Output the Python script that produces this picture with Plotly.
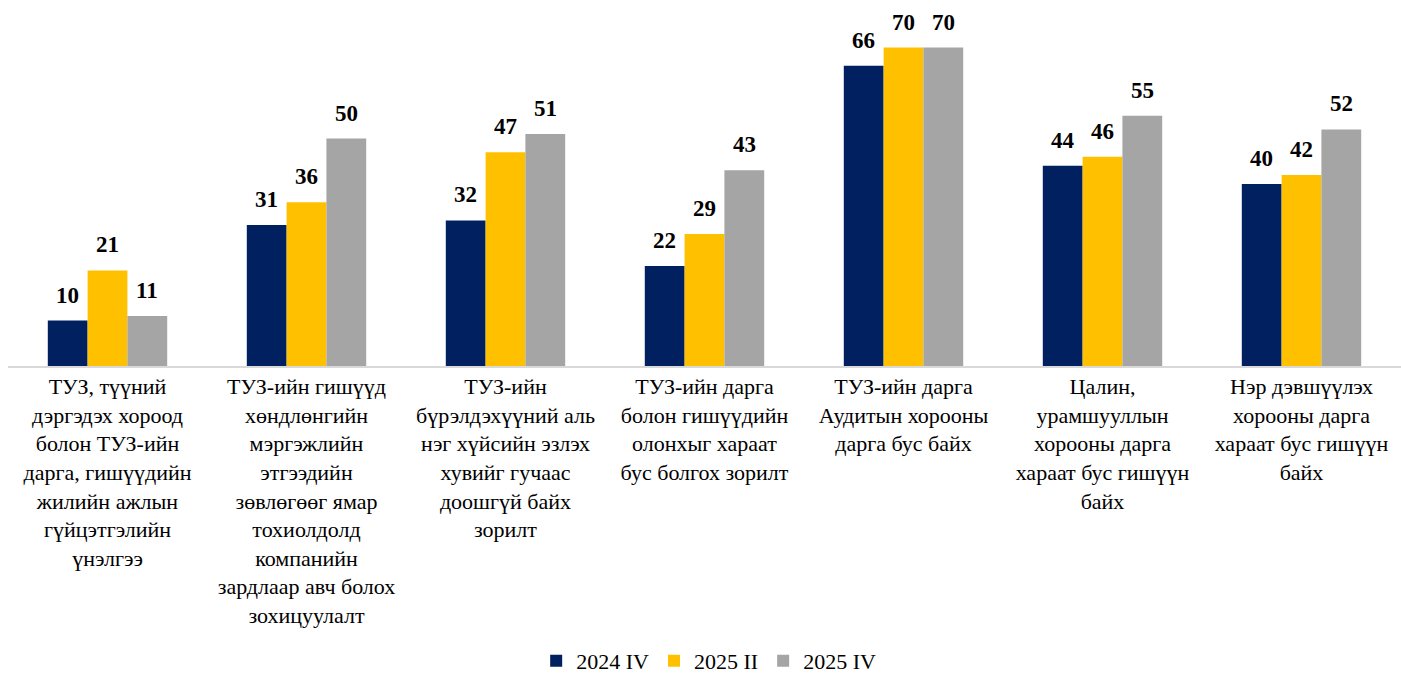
import plotly.graph_objects as go

categories = [
    "ТУЗ, түүний<br>дэргэдэх хороод<br>болон ТУЗ-ийн<br>дарга, гишүүдийн<br>жилийн ажлын<br>гүйцэтгэлийн<br>үнэлгээ",
    "ТУЗ-ийн гишүүд<br>хөндлөнгийн<br>мэргэжлийн<br>этгээдийн<br>зөвлөгөөг ямар<br>тохиолдолд<br>компанийн<br>зардлаар авч болох<br>зохицуулалт",
    "ТУЗ-ийн<br>бүрэлдэхүүний аль<br>нэг хүйсийн эзлэх<br>хувийг гучаас<br>доошгүй байх<br>зорилт",
    "ТУЗ-ийн дарга<br>болон гишүүдийн<br>олонхыг хараат<br>бус болгох зорилт",
    "ТУЗ-ийн дарга<br>Аудитын хорооны<br>дарга бус байх",
    "Цалин,<br>урамшууллын<br>хорооны дарга<br>хараат бус гишүүн<br>байх",
    "Нэр дэвшүүлэх<br>хорооны дарга<br>хараат бус гишүүн<br>байх",
]
series_names = ["2024 IV", "2025 II", "2025 IV"]
values_2024_iv = [10, 31, 32, 22, 66, 44, 40]
values_2025_ii = [21, 36, 47, 29, 70, 46, 42]
values_2025_iv = [11, 50, 51, 43, 70, 55, 52]
colors = ["#002060", "#FFC000", "#A5A5A5"]

FONT = "Liberation Serif"

W, H = 1401, 675
ML, MR, MT, MB = 8, 0, 2, 309
BARGAP = 0.4
all_series = [values_2024_iv, values_2025_ii, values_2025_iv]
n_series = len(all_series)
bar_px = (W - ML - MR) / len(categories) * (1 - BARGAP) / n_series

fig = go.Figure()
for name, vals, col in zip(series_names, all_series, colors):
    fig.add_trace(go.Bar(
        x=categories, y=vals, name=name,
        marker=dict(color=col, line=dict(width=0)),
        hoverinfo="x+y+name",
    ))

annotations = []
for si, vals in enumerate(all_series):
    shift = (si - (n_series - 1) / 2) * bar_px
    for cat, v in zip(categories, vals):
        annotations.append(dict(
            x=cat, y=v, xref="x", yref="y", text=f"<b>{v}</b>",
            showarrow=False, xshift=shift, yshift=11, yanchor="bottom",
            font=dict(family=FONT, size=23, color="#000000"),
        ))

fig.update_layout(
    width=W, height=H,
    barmode="group", bargap=BARGAP, bargroupgap=0,
    plot_bgcolor="white", paper_bgcolor="white",
    margin=dict(l=ML, r=MR, t=MT, b=MB, autoexpand=False),
    font=dict(family=FONT, color="#000000"),
    xaxis=dict(showline=True, linecolor="#D9D9D9", linewidth=1.5, ticks="",
               tickfont=dict(family=FONT, size=22, color="#000000"), showgrid=False,
               automargin=False),
    yaxis=dict(range=[0, 80], visible=False, showgrid=False, zeroline=False),
    legend=dict(orientation="h", x=0.503, xanchor="center", yref="paper", y=-0.81,
                yanchor="middle", font=dict(family=FONT, size=22, color="#000000"),
                itemclick=False, itemwidth=30, bgcolor="rgba(0,0,0,0)"),
    annotations=annotations,
    showlegend=True,
)

fig.write_html("out.html", config={"displayModeBar": False},
               post_script="document.body.style.margin='0';document.body.style.overflow='hidden';")
